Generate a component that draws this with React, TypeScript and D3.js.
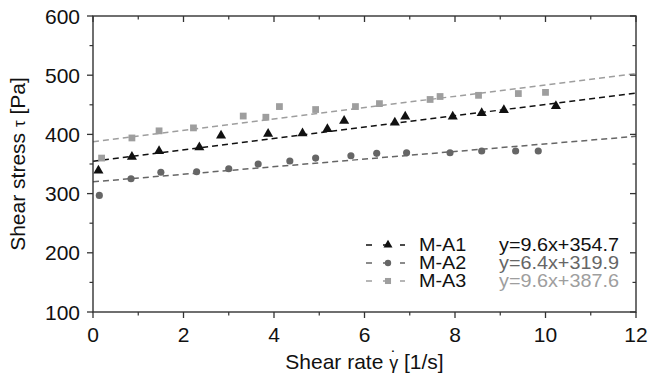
import React from "react";
import * as d3 from "d3";

const seriesNames = ["M-A1", "M-A2", "M-A3"];
const equations = ["y=9.6x+354.7", "y=6.4x+319.9", "y=9.6x+387.6"];
const slopes = [9.6, 6.4, 9.6];
const intercepts = [354.7, 319.9, 387.6];

const rateA1 = [0.12, 0.86, 1.46, 2.35, 2.83, 3.87, 4.63, 5.18, 5.55, 6.67, 6.9, 7.95, 8.59, 9.08, 10.23];
const stressA1 = [339, 362, 372, 378, 398, 401, 402, 409, 423, 420, 430, 430, 436, 441, 448];
const rateA2 = [0.14, 0.84, 1.5, 2.29, 3.0, 3.65, 4.35, 4.92, 5.7, 6.27, 6.93, 7.89, 8.59, 9.34, 9.84];
const stressA2 = [297, 325, 336, 337, 342, 350, 355, 360, 364, 368, 369, 369, 372, 372, 372];
const rateA3 = [0.19, 0.86, 1.46, 2.22, 3.32, 3.82, 4.12, 4.92, 5.8, 6.33, 7.45, 7.67, 8.52, 9.4, 10.0];
const stressA3 = [360, 394, 406, 411, 431, 429, 447, 442, 447, 452, 459, 464, 466, 469, 471];

const xTicks = [0, 2, 4, 6, 8, 10, 12];
const yTicks = [100, 200, 300, 400, 500, 600];
const xMinor = [1, 3, 5, 7, 9, 11];
const yMinor = [150, 250, 350, 450, 550];

const colors = ["#111111", "#666666", "#9e9e9e"];
const symbols = [d3.symbolTriangle, d3.symbolCircle, d3.symbolSquare];
const symbolSizes = [44, 40, 46];

const W = 651, H = 377;
const L = 93, R = 636, T = 16, B = 312;
const FONT = "'Liberation Sans', Arial, sans-serif";

export default function App() {
  const x = d3.scaleLinear().domain([0, 12]).range([L, R]);
  const y = d3.scaleLinear().domain([100, 600]).range([B, T]);
  const series = [
    { xs: rateA1, ys: stressA1 },
    { xs: rateA2, ys: stressA2 },
    { xs: rateA3, ys: stressA3 },
  ];
  const line = d3.line<[number, number]>().x(d => x(d[0])).y(d => y(d[1]));
  const axisColor = "#333";

  return (
    <svg width={W} height={H} style={{ position: "absolute", left: 0, top: 0, background: "#fff" }} fontFamily={FONT}>
      <defs>
        <clipPath id="plot"><rect x={L} y={T} width={R - L} height={B - T} /></clipPath>
      </defs>
      {/* fit lines */}
      <g clipPath="url(#plot)">
        {slopes.map((m, i) => {
          const pts: [number, number][] = [0, 12].map(v => [v, m * v + intercepts[i]]);
          return <path key={i} d={line(pts) || ""} fill="none" stroke={colors[i]} strokeWidth={1.5} strokeDasharray="6,4" />;
        })}
      </g>
      {/* markers */}
      {series.map((s, i) => (
        <g key={i} fill={colors[i]}>
          {s.xs.map((xv, j) => (
            <path key={j} transform={`translate(${x(xv)},${y(s.ys[j])})`} d={d3.symbol().type(symbols[i]).size(symbolSizes[i])() || ""} />
          ))}
        </g>
      ))}
      {/* frame */}
      <rect x={L} y={T} width={R - L} height={B - T} fill="none" stroke={axisColor} strokeWidth={1.4} />
      {xTicks.map(t => (
        <g key={"xt" + t}>
          <line x1={x(t)} x2={x(t)} y1={B} y2={B + 6} stroke={axisColor} strokeWidth={1.3} />
          <line x1={x(t)} x2={x(t)} y1={T} y2={T + 6} stroke={axisColor} strokeWidth={1.3} />
          <text x={x(t)} y={B + 30} textAnchor="middle" fontSize={21} fill="#111">{t}</text>
        </g>
      ))}
      {xMinor.map(t => (
        <g key={"xm" + t}>
          <line x1={x(t)} x2={x(t)} y1={B} y2={B + 3.5} stroke={axisColor} strokeWidth={1.2} />
          <line x1={x(t)} x2={x(t)} y1={T} y2={T + 3.5} stroke={axisColor} strokeWidth={1.2} />
        </g>
      ))}
      {yTicks.map(t => (
        <g key={"yt" + t}>
          <line x1={L - 6} x2={L} y1={y(t)} y2={y(t)} stroke={axisColor} strokeWidth={1.3} />
          <line x1={R - 6} x2={R} y1={y(t)} y2={y(t)} stroke={axisColor} strokeWidth={1.3} />
          <text x={80} y={y(t)} dy="0.36em" textAnchor="end" fontSize={21} fill="#111">{t}</text>
        </g>
      ))}
      {yMinor.map(t => (
        <g key={"ym" + t}>
          <line x1={L - 3.5} x2={L} y1={y(t)} y2={y(t)} stroke={axisColor} strokeWidth={1.2} />
          <line x1={R - 3.5} x2={R} y1={y(t)} y2={y(t)} stroke={axisColor} strokeWidth={1.2} />
        </g>
      ))}
      {/* axis titles */}
      <text x={(L + R) / 2} y={369} textAnchor="middle" fontSize={21} fill="#111">
        Shear rate <tspan fontSize={18}>γ</tspan><tspan fontSize={18} dx={-7.5} dy={-5}>˙</tspan><tspan dx={1.5} dy={5}> [1/s]</tspan>
      </text>
      <text transform={`translate(25,${(T + B) / 2}) rotate(-90)`} textAnchor="middle" fontSize={21} fill="#111">
        Shear stress <tspan fontSize={17}>τ</tspan> [Pa]
      </text>
      {/* legend */}
      {seriesNames.map((n, i) => {
        const cy = 245 + i * 18;
        return (
          <g key={n}>
            <line x1={366} x2={405} y1={cy} y2={cy} stroke={colors[i]} strokeWidth={1.6} strokeDasharray="6,11" />
            <path transform={`translate(388,${cy})`} fill={colors[i]} d={d3.symbol().type(symbols[i]).size(symbolSizes[i] * 0.8)() || ""} />
            <text transform={`translate(419,${cy}) scale(1.1,1)`} dy="0.36em" fontSize={18} fill="#111">{n}</text>
            <text transform={`translate(499,${cy}) scale(1.1,1)`} dy="0.36em" fontSize={18} fill={colors[i]}>{equations[i]}</text>
          </g>
        );
      })}
    </svg>
  );
}
